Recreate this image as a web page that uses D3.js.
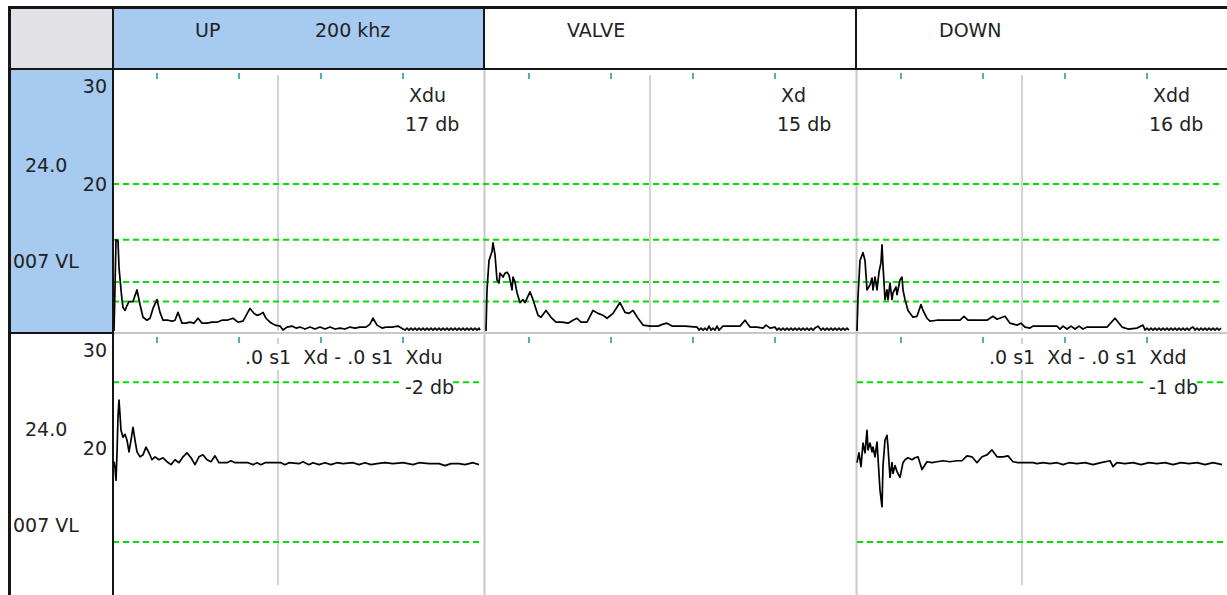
<!DOCTYPE html>
<html>
<head>
<meta charset="utf-8">
<script src="https://cdn.jsdelivr.net/npm/d3@7"></script>
<style>
  body { margin: 0; background: #fff; }
  text { font-family: "DejaVu Sans", sans-serif; font-size: 19px; fill: #222; }
</style>
</head>
<body>
<div id="chart"></div>
<script>
// ---- data ----
var columns = ["UP", "VALVE", "DOWN"];
var headerNotes = ["200 khz", "", ""];
var signalNames = ["Xdu", "Xd", "Xdd"];
var signalDb = ["17 db", "15 db", "16 db"];
var diffNames = [".0 s1  Xd - .0 s1  Xdu", null, ".0 s1  Xd - .0 s1  Xdd"];
var diffDb = ["-2 db", null, "-1 db"];
var yTicks = [30, 20];
var rowLabels = ["24.0", "007 VL"];
var gateLevels = [20, 14.3, 10, 8];      // green dashed, top row
var diffLevels = [26.7, 10.4];           // green dashed, bottom row
var xTicks = [44, 126, 208, 290];        // teal marks
var midMark = 165;                       // grey cursor line

// [sample, dB]
var upTrace = [[1,5.0],[2,9.5],[3,14.3],[5,14.2],[6,11.5],[8,9.2],[9,8.2],[10,7.4],[12,7.1],[14,7.6],[16,8.0],[20,8.0],[24,9.2],[27,7.7],[30,6.4],[34,6.1],[37,6.3],[40,7.3],[44,8.2],[47,6.9],[50,6.1],[55,6.1],[59,6.0],[62,6.1],[65,6.9],[69,5.8],[73,5.8],[77,5.9],[81,5.8],[85,6.3],[89,5.8],[94,5.8],[99,5.9],[104,5.9],[109,6.1],[114,6.1],[120,6.3],[125,5.9],[130,6.0],[137,7.3],[141,6.8],[144,6.6],[147,6.7],[150,6.9],[153,6.3],[157,5.9],[162,5.6],[167,5.5],[170,5.1],[174,5.4],[179,5.5],[183,5.3],[187,5.4],[192,5.2],[197,5.4],[202,5.2],[207,5.4],[212,5.2],[217,5.4],[222,5.2],[227,5.3],[232,5.2],[237,5.4],[242,5.3],[247,5.4],[253,5.4],[257,5.7],[260,6.3],[264,5.6],[269,5.3],[273,5.4],[279,5.4],[285,5.5],[290,5.2],
  [292,5.1],[294,5.3],[296,5.1],[298,5.3],[300,5.1],[302,5.3],[304,5.1],[306,5.3],[308,5.1],[310,5.3],[312,5.1],[314,5.3],[316,5.1],[318,5.3],[320,5.1],[322,5.3],[324,5.1],[326,5.3],[328,5.1],[330,5.3],[332,5.1],[334,5.3],[336,5.1],[338,5.3],[340,5.1],[342,5.3],[344,5.1],[346,5.3],[348,5.1],[350,5.3],[352,5.1],[354,5.3],[356,5.1],[358,5.3],[360,5.1],[362,5.3],[364,5.1],[366,5.3],[367,5.1]];

var valveTrace = [[1,5.0],[2,9.2],[4,12.2],[7,13.1],[8,14.0],[10,12.8],[12,10.2],[14,9.9],[15,10.9],[18,10.5],[20,10.9],[22,11.0],[24,10.7],[25,10.2],[27,9.2],[28,10.5],[30,10.0],[32,8.9],[35,7.9],[38,8.2],[40,7.9],[45,9.0],[48,8.2],[53,6.6],[56,6.4],[61,7.1],[66,6.4],[71,5.9],[77,5.9],[83,5.8],[88,6.1],[92,6.3],[96,5.9],[102,5.9],[108,7.1],[113,6.8],[118,6.6],[122,6.3],[128,6.8],[135,7.9],[140,6.9],[144,6.8],[148,7.1],[153,6.3],[158,5.6],[165,5.5],[173,5.5],[178,5.7],[182,5.8],[187,5.5],[200,5.5],[212,5.4],
  [214,5.1],[216,5.3],[218,5.1],[220,5.3],[222,5.1],[224,5.5],[226,5.1],[228,5.3],[230,5.1],[232,5.5],[234,5.1],[236,5.3],[238,5.5],[255,5.5],[260,6.1],[265,5.4],[272,5.4],[278,5.3],[281,5.6],[285,5.3],[290,5.4],
  [292,5.1],[294,5.3],[296,5.1],[298,5.3],[300,5.1],[302,5.3],[304,5.1],[306,5.3],[308,5.1],[310,5.3],[312,5.1],[314,5.3],[316,5.1],[318,5.3],[320,5.1],[322,5.3],[324,5.1],[326,5.3],[328,5.1],[330,5.3],[333,5.5],[336,5.1],[338,5.3],[340,5.1],[342,5.3],[344,5.1],[346,5.3],[348,5.1],[350,5.3],[352,5.1],[354,5.3],[356,5.1],[358,5.3],[360,5.1],[362,5.3],[364,5.1]];

var downTrace = [[0,5.0],[1,8.5],[3,12.2],[6,13.0],[8,12.2],[10,9.2],[13,9.7],[15,10.4],[16,9.2],[18,10.5],[20,9.2],[22,11.0],[24,12.0],[25,13.8],[26,11.7],[28,8.2],[30,9.2],[31,8.2],[33,9.9],[35,8.2],[36,8.9],[39,9.5],[40,8.7],[43,10.2],[45,10.5],[46,9.2],[48,8.2],[51,7.1],[56,6.4],[60,6.5],[64,7.7],[66,7.1],[70,6.3],[73,6.0],[80,6.1],[93,6.1],[103,6.1],[107,6.5],[111,6.1],[120,6.1],[130,6.1],[136,6.5],[140,6.2],[148,6.5],[153,5.8],[160,5.6],[164,5.8],[168,5.4],[173,5.3],[176,5.5],[200,5.5],[203,5.2],[206,5.5],[210,5.2],[214,5.5],[218,5.2],[222,5.5],[226,5.2],[230,5.4],[250,5.4],[258,6.3],[265,5.4],[271,5.2],[280,5.3],[286,5.6],
  [288,5.1],[290,5.3],[292,5.1],[294,5.3],[296,5.1],[298,5.3],[300,5.1],[302,5.3],[304,5.1],[306,5.3],[308,5.1],[310,5.3],[312,5.1],[314,5.3],[316,5.1],[318,5.3],[320,5.1],[322,5.3],[324,5.1],[326,5.3],[328,5.1],[330,5.3],[332,5.1],[334,5.3],[336,5.4],[338,5.1],[340,5.3],[342,5.1],[344,5.3],[346,5.1],[348,5.3],[350,5.1],[352,5.3],[354,5.1],[356,5.3],[358,5.1],[360,5.3],[362,5.1],[364,5.3]];

var upDiff = [[1,18.6],[2,18.0],[3,16.7],[4,19.5],[5,23.2],[6,24.9],[7,23.4],[8,21.8],[10,21.1],[12,21.4],[14,20.8],[16,19.6],[18,20.8],[20,22.1],[22,20.8],[24,19.6],[27,19.1],[30,19.3],[33,20.1],[36,19.5],[39,18.8],[42,19.1],[46,18.8],[50,19.0],[54,18.6],[58,18.3],[62,18.8],[66,18.5],[70,19.1],[74,19.5],[78,19.0],[82,18.3],[86,19.1],[90,19.3],[94,18.8],[98,18.6],[102,19.2],[106,18.5],[114,18.5],[118,18.7],[122,18.5],[135,18.5],[140,18.3],[144,18.5],[148,18.3],[152,18.5],[168,18.5],[172,18.3],[176,18.5],[186,18.4],[190,18.6],[196,18.3],[200,18.5],[206,18.3],[212,18.5],[218,18.3],[224,18.5],[230,18.4],[240,18.5],[246,18.3],[252,18.5],[258,18.3],[264,18.4],[272,18.5],[280,18.4],[290,18.5],[300,18.3],[306,18.5],[316,18.4],[326,18.4],[332,18.2],[338,18.4],[346,18.4],[352,18.3],[360,18.5],[366,18.3]];

var downDiff = [[0,18.5],[2,19.5],[4,18.1],[6,20.5],[8,19.5],[10,21.8],[11,19.8],[13,20.5],[15,19.6],[16,20.1],[18,19.1],[20,20.6],[21,19.0],[23,15.7],[25,14.0],[26,18.2],[28,20.8],[30,21.3],[31,20.1],[33,17.0],[35,18.5],[36,17.4],[38,18.2],[40,17.6],[43,17.0],[45,18.0],[46,18.5],[48,18.8],[51,19.0],[55,18.8],[58,19.0],[61,19.1],[65,17.8],[70,18.6],[75,18.5],[80,18.6],[86,18.7],[93,18.6],[100,18.7],[105,18.7],[110,19.2],[115,19.1],[120,18.5],[125,19.1],[130,19.3],[135,19.8],[140,19.1],[146,19.1],[151,19.2],[156,18.6],[161,18.5],[176,18.5],[180,18.4],[186,18.5],[193,18.4],[200,18.5],[206,18.3],[212,18.5],[220,18.4],[228,18.5],[236,18.3],[244,18.5],[253,18.7],[256,18.1],[260,18.5],[268,18.4],[276,18.5],[284,18.3],[292,18.5],[300,18.4],[308,18.5],[316,18.3],[324,18.5],[332,18.4],[340,18.5],[348,18.3],[356,18.5],[365,18.3]];

var traces = [upTrace, valveTrace, downTrace];
var diffs = [upDiff, null, downDiff];

// ---- layout ----
var width = 1227, height = 595;
var blue = "#a6caf0", dark = "#161616", lightGrey = "#c8c8c8";
var teal = "#229c9c", green = "#00e000";
var rowTop = [70, 334];

var svg = d3.select("#chart").append("svg")
    .attr("width", width)
    .attr("height", height);

var colX = d3.scaleBand().domain(columns).range([113, 1229]);

function xScale(c) {
    var x0 = colX(c);
    return d3.scaleLinear().domain([0, 370]).range([x0, x0 + 370]);
}
function yScale(r) {
    return d3.scaleLinear().domain([5, 30]).range([rowTop[r] + 261, rowTop[r] + 16]);
}

svg.append("rect").attr("width", width).attr("height", height).attr("fill", "#fff");

// header cells
svg.append("rect").attr("x", 11).attr("y", 9).attr("width", 101).attr("height", 60).attr("fill", "#e2e1e6");
svg.selectAll(".hcell")
  .data(columns)
  .enter().append("rect")
    .attr("class", "hcell")
    .attr("x", function(d) { return colX(d); })
    .attr("y", 9)
    .attr("width", colX.step())
    .attr("height", 60)
    .attr("fill", function(d, i) { return i == 0 ? blue : "#fff"; });

// selected row label cell
svg.append("rect").attr("x", 11).attr("y", 70).attr("width", 101).attr("height", 263).attr("fill", blue);

// panel separators inside the plot rows
svg.selectAll(".vsep")
  .data(columns.slice(1))
  .enter().append("line")
    .attr("x1", function(d) { return colX(d) - 0.5; })
    .attr("x2", function(d) { return colX(d) - 0.5; })
    .attr("y1", 70).attr("y2", height)
    .attr("stroke", lightGrey).attr("stroke-width", 2);
svg.append("line")
    .attr("x1", 113).attr("x2", width).attr("y1", 333).attr("y2", 333)
    .attr("stroke", lightGrey).attr("stroke-width", 2);

var line = d3.line();

columns.forEach(function(col, i) {
    var x = xScale(col);
    var x0 = colX(col);

    [0, 1].forEach(function(r) {
        var y = yScale(r);
        var hasData = r == 0 || diffs[i];

        // cursor line
        if (hasData) {
            svg.append("line")
                .attr("x1", x(midMark)).attr("x2", x(midMark))
                .attr("y1", rowTop[r] + (r == 0 ? 5 : 4))
                .attr("y2", rowTop[r] + (r == 0 ? 261 : 251))
                .attr("stroke", "#c4c4c4").attr("stroke-width", 1.5);
        }

        // teal marks at the top of each panel
        svg.selectAll(null)
          .data(xTicks)
          .enter().append("line")
            .attr("x1", function(d) { return x(d); })
            .attr("x2", function(d) { return x(d); })
            .attr("y1", rowTop[r] + 3)
            .attr("y2", rowTop[r] + 9)
            .attr("stroke", teal).attr("stroke-width", 1.6);

        if (r == 1 && diffs[i]) {
            svg.selectAll(null)
              .data(diffLevels)
              .enter().append("line")
                .attr("x1", x0).attr("x2", x(367))
                .attr("y1", function(d) { return y(d); })
                .attr("y2", function(d) { return y(d); })
                .attr("stroke", green).attr("stroke-width", 2)
                .attr("stroke-dasharray", "6,4");
        }
    });
});

// top row thresholds run across all panels
var y0 = yScale(0);
svg.selectAll(".gate")
  .data(gateLevels)
  .enter().append("line")
    .attr("x1", 113).attr("x2", 1223)
    .attr("y1", function(d) { return y0(d); })
    .attr("y2", function(d) { return y0(d); })
    .attr("stroke", green).attr("stroke-width", 2)
    .attr("stroke-dasharray", "6,4");

// traces
columns.forEach(function(col, i) {
    var x = xScale(col);
    [traces[i], diffs[i]].forEach(function(series, r) {
        if (!series) return;
        var y = yScale(r);
        line.x(function(d) { return x(d[0]); }).y(function(d) { return y(d[1]); });
        svg.append("path")
            .datum(series)
            .attr("d", line)
            .attr("fill", "none")
            .attr("stroke", "#000")
            .attr("stroke-width", 1.7)
            .attr("stroke-linejoin", "round");
    });
});

// header text
columns.forEach(function(col, i) {
    var x0 = colX(col);
    svg.append("text").attr("x", x0 + 82).attr("y", 37).text(col);
    if (headerNotes[i]) svg.append("text").attr("x", x0 + 202).attr("y", 37).text(headerNotes[i]);

    svg.append("text").attr("x", x0 + 296).attr("y", rowTop[0] + 32).text(signalNames[i]);
    svg.append("text").attr("x", x0 + 292).attr("y", rowTop[0] + 61).text(signalDb[i]);

    if (diffNames[i]) {
        svg.append("rect").attr("x", x0 + 130).attr("y", rowTop[1] + 10)
            .attr("width", 204).attr("height", 26).attr("fill", "#fff");
        svg.append("text").attr("x", x0 + 132).attr("y", rowTop[1] + 30)
            .style("white-space", "pre").text(diffNames[i]);
        svg.append("rect").attr("x", x0 + 290).attr("y", rowTop[1] + 41)
            .attr("width", 50).attr("height", 24).attr("fill", "#fff");
        svg.append("text").attr("x", x0 + 292).attr("y", rowTop[1] + 60).text(diffDb[i]);
    }
});

// row label column
[0, 1].forEach(function(r) {
    var y = yScale(r);
    svg.selectAll(null)
      .data(yTicks)
      .enter().append("text")
        .attr("x", 107)
        .attr("y", function(d) { return y(d) + 7; })
        .attr("text-anchor", "end")
        .text(function(d) { return d; });
    svg.append("text").attr("x", 25).attr("y", rowTop[r] + 102).text(rowLabels[0]);
    svg.append("text").attr("x", 13).attr("y", rowTop[r] + 198).text(rowLabels[1]);
});

// dark grid frame
svg.append("rect").attr("x", 8).attr("y", 6).attr("width", width - 8).attr("height", 3).attr("fill", dark);
svg.append("rect").attr("x", 8).attr("y", 6).attr("width", 3).attr("height", height - 6).attr("fill", dark);
svg.append("rect").attr("x", 112).attr("y", 6).attr("width", 2).attr("height", height - 6).attr("fill", dark);
svg.append("rect").attr("x", 8).attr("y", 68).attr("width", width - 8).attr("height", 2).attr("fill", dark);
svg.append("rect").attr("x", 11).attr("y", 332).attr("width", 102).attr("height", 2).attr("fill", dark);
svg.selectAll(".hsep")
  .data(columns.slice(1))
  .enter().append("rect")
    .attr("x", function(d) { return colX(d) - 2; })
    .attr("y", 9).attr("width", 2).attr("height", 60)
    .attr("fill", dark);
</script>
</body>
</html>
